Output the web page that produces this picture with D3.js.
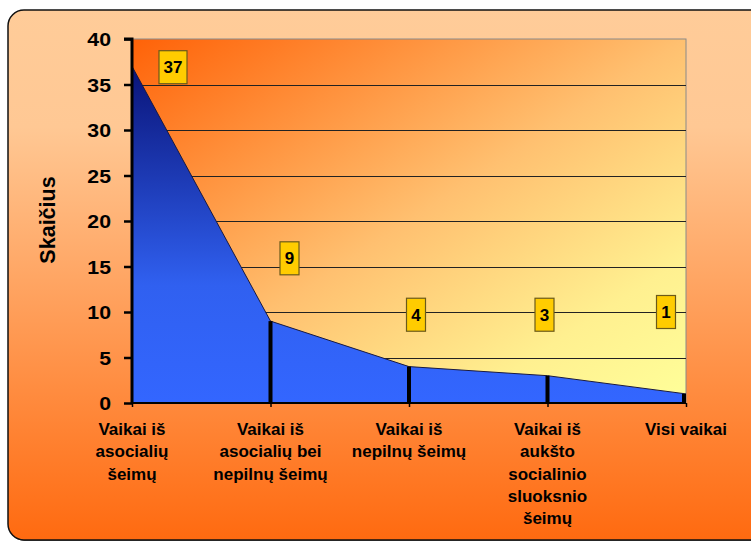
<!DOCTYPE html>
<html><head><meta charset="utf-8">
<script src="https://cdn.jsdelivr.net/npm/d3@7"></script>
<style>html,body{margin:0;padding:0;background:#fff;overflow:hidden}svg{display:block}</style>
</head><body>
<script>
const categories = [
  ["Vaikai iš","asocialių","šeimų"],
  ["Vaikai iš","asocialių bei","nepilnų šeimų"],
  ["Vaikai iš","nepilnų šeimų"],
  ["Vaikai iš","aukšto","socialinio","sluoksnio","šeimų"],
  ["Visi vaikai"]
];
const values = [37, 9, 4, 3, 1];
const yTicks = [0, 5, 10, 15, 20, 25, 30, 35, 40];
const yTitle = "Skaičius";

const W = 751, H = 544;
const FONT = "Liberation Sans, Arial, sans-serif";
const svg = d3.select("body").append("svg").attr("width", W).attr("height", H);
const defs = svg.append("defs");

const bg = defs.append("linearGradient").attr("id","bg").attr("x1",0).attr("y1",0).attr("x2",0).attr("y2",1);
bg.append("stop").attr("offset",0).attr("stop-color","#FFCC99");
bg.append("stop").attr("offset",0.22).attr("stop-color","#FFC894");
bg.append("stop").attr("offset",1).attr("stop-color","#FF6A10");

const pg = defs.append("linearGradient").attr("id","pg").attr("x1",0).attr("y1",0).attr("x2",1).attr("y2",1);
pg.append("stop").attr("offset",0).attr("stop-color","#FF6208");
pg.append("stop").attr("offset",0.5).attr("stop-color","#FFC070");
pg.append("stop").attr("offset",0.8).attr("stop-color","#FFF090");
pg.append("stop").attr("offset",1).attr("stop-color","#FFFF99");

const m = {l:132, r:686, t:39, b:403};
const x = d3.scalePoint().domain(d3.range(categories.length)).range([m.l, m.r]);
const y = d3.scaleLinear().domain([0, 40]).range([m.b, m.t]);

const ag = defs.append("linearGradient").attr("id","ag").attr("gradientUnits","userSpaceOnUse")
  .attr("x1",0).attr("y1",y(37)).attr("x2",0).attr("y2",y(0));
ag.append("stop").attr("offset",0).attr("stop-color","#0A1478");
ag.append("stop").attr("offset",0.35).attr("stop-color","#1E3CB8");
ag.append("stop").attr("offset",0.65).attr("stop-color","#3060F0");
ag.append("stop").attr("offset",1).attr("stop-color","#3366FF");

// outer background
svg.append("rect").attr("x",9).attr("y",11).attr("width",770).attr("height",530).attr("rx",16)
  .attr("fill","#666");
svg.append("rect").attr("x",8).attr("y",10).attr("width",770).attr("height",530).attr("rx",16)
  .attr("fill","url(#bg)").attr("stroke","#111").attr("stroke-width",1.5);

// plot area
svg.append("rect").attr("x",m.l).attr("y",m.t).attr("width",m.r-m.l).attr("height",m.b-m.t)
  .attr("fill","url(#pg)").attr("stroke","#8a8a8a").attr("stroke-width",1);

// gridlines
svg.append("g").selectAll("line").data(yTicks.filter(d=>d>0 && d<40)).join("line")
  .attr("x1",m.l).attr("x2",m.r).attr("y1",d=>Math.round(y(d))+0.5).attr("y2",d=>Math.round(y(d))+0.5)
  .attr("stroke","#222").attr("stroke-width",1);

// area
const area = d3.area().x((d,i)=>x(i)).y0(y(0)).y1(d=>y(d));
svg.append("path").datum(values).attr("d",area).attr("fill","url(#ag)");
const line = d3.line().x((d,i)=>x(i)).y(d=>y(d));
svg.append("path").datum(values).attr("d",line).attr("fill","none").attr("stroke","#1a1a40").attr("stroke-width",1);

// drop lines
svg.append("g").selectAll("line").data(values.slice(1)).join("line")
  .attr("x1",(d,i)=>x(i+1)-(i===3?2:0)).attr("x2",(d,i)=>x(i+1)-(i===3?2:0))
  .attr("y1",d=>y(d)).attr("y2",y(0))
  .attr("stroke","#000").attr("stroke-width",4);

// y axis
const yAx = svg.append("g").attr("transform",`translate(${m.l},0)`)
  .call(d3.axisLeft(y).tickValues(yTicks).tickSize(8).tickPadding(0));
yAx.select(".domain").attr("stroke","#000").attr("stroke-width",3).attr("d",`M-8,${y(40)}H0V${y(0)}`);
yAx.selectAll(".tick line").attr("stroke","#000").attr("stroke-width",2.5);
yAx.selectAll(".tick text").attr("fill","#000").attr("font-family",FONT)
  .attr("font-weight","bold").attr("font-size",19).attr("dy","0.36em")
  .attr("x",null).attr("transform","translate(-21,0) scale(1.12,1)");

// x axis
const xAx = svg.append("g").attr("transform",`translate(0,${m.b})`)
  .call(d3.axisBottom(x).tickSize(4).tickFormat(""));
xAx.select(".domain").attr("stroke","#000").attr("stroke-width",2).attr("d",`M${m.l},0H${m.r}`);
xAx.selectAll(".tick line").attr("stroke","#000").attr("stroke-width",1.5);

const xl = svg.append("g").attr("font-family",FONT)
  .attr("font-weight","bold").attr("font-size",17).attr("fill","#000").attr("text-anchor","middle");
categories.forEach((lines,i)=>{
  const t = xl.append("text").attr("x",x(i)).attr("y",435);
  lines.forEach((s,j)=>t.append("tspan").attr("x",x(i)).attr("dy",j?22.3:0).text(s));
});

// y title
svg.append("text").attr("transform",`translate(55,${y(20)-1}) rotate(-90)`)
  .attr("text-anchor","middle").attr("font-family",FONT)
  .attr("font-weight","bold").attr("font-size",21.5).attr("fill","#000").text(yTitle);

// data labels
const labelDx = [41, 19, 7, -3, -20];
const labelAt = [36.9, 15.9, 9.7, 9.7, 10.0];
const lg = svg.append("g");
values.forEach((v,i)=>{
  const cx = x(i)+labelDx[i], cy = y(labelAt[i]);
  const w = String(v).length>1 ? 28 : 19;
  lg.append("rect").attr("x",cx-w/2).attr("y",cy-16.5).attr("width",w).attr("height",33)
    .attr("fill","#FFCC00").attr("stroke","#6b5a1a").attr("stroke-width",1.2);
  lg.append("text").attr("x",cx).attr("y",cy).attr("dy","0.36em").attr("text-anchor","middle")
    .attr("font-family",FONT).attr("font-weight","bold")
    .attr("font-size",17).attr("fill","#000").text(v);
});
</script>
</body></html>
